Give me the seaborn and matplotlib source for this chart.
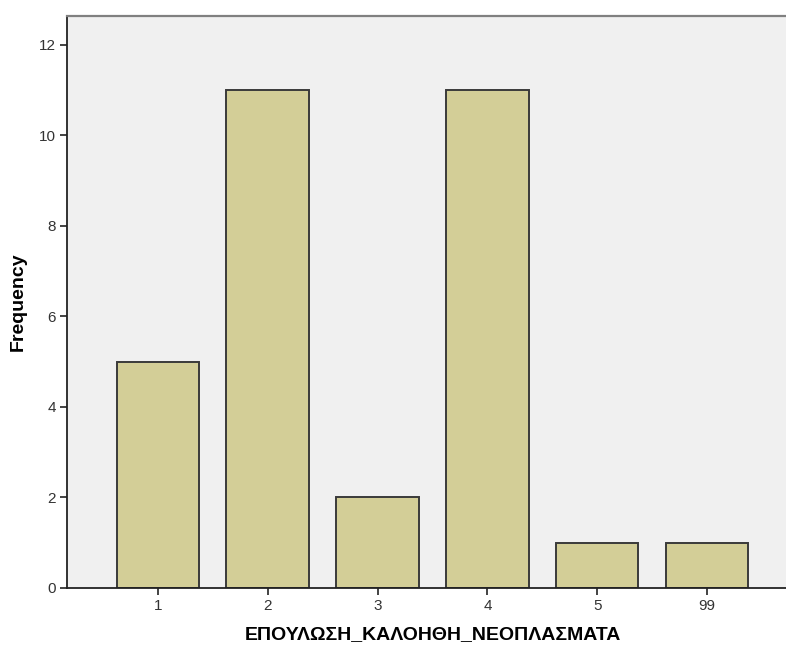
import matplotlib
matplotlib.use("Agg")
import matplotlib.pyplot as plt
import seaborn as sns
import pandas as pd

categories = ["1", "2", "3", "4", "5", "99"]
frequency = [5, 11, 2, 11, 1, 1]
y_ticks = [0, 2, 4, 6, 8, 10, 12]

df = pd.DataFrame({"category": categories, "frequency": frequency})

sns.set_style("white")
plt.rcParams["font.family"] = ["Liberation Sans", "DejaVu Sans"]

fig = plt.figure(figsize=(7.86, 6.46), dpi=100)
ax = fig.add_axes([0.0852, 0.0898, 0.930, 0.8854])
ax.set_facecolor("#F0F0F0")

sns.barplot(data=df, x="category", y="frequency", order=categories,
            color="#D3CE97", saturation=1, width=0.75,
            edgecolor="#3A3A3A", linewidth=1.4, ax=ax)

ax.set_xlim(-0.827, 5.827)
ax.set_ylim(0, 12.64)
ax.set_yticks(y_ticks)
ax.set_yticklabels([str(v) for v in y_ticks])

ax.tick_params(axis="both", which="major", direction="out", length=5,
               width=1.2, color="#222222", labelsize=11, labelcolor="#333333",
               pad=3, left=True, bottom=True)

for side in ["left", "bottom"]:
    ax.spines[side].set_color("#222222")
    ax.spines[side].set_linewidth(1.3)
ax.spines["top"].set_color("#808080")
ax.spines["top"].set_linewidth(1.6)
ax.spines["right"].set_visible(False)

ax.set_xlabel("ΕΠΟΥΛΩΣΗ_ΚΑΛΟΗΘΗ_ΝΕΟΠΛΑΣΜΑΤΑ", fontsize=14,
              fontweight="bold", color="#000000", labelpad=9)
ax.set_ylabel("Frequency", fontsize=14, fontweight="bold",
              color="#000000", labelpad=9)

fig.savefig("out.png", dpi=100)
